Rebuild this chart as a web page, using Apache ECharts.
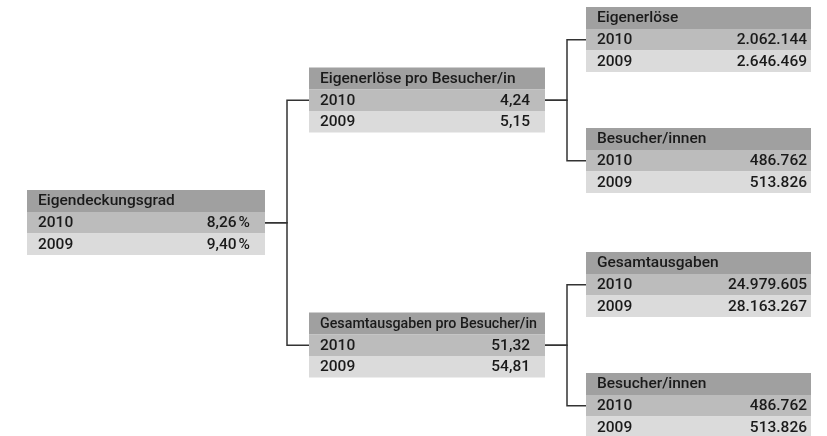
<!DOCTYPE html>
<html>
<head>
<meta charset="utf-8">
<script src="https://cdn.jsdelivr.net/npm/echarts@6/dist/echarts.min.js"></script>
<style>html,body{margin:0;padding:0;background:#fff}#c{width:827px;height:436px}</style>
</head>
<body>
<div id="c"></div>
<script>
// ---- data ----
const nodeTitles = ['Eigendeckungsgrad', 'Eigenerlöse pro Besucher/in', 'Eigenerlöse', 'Besucher/innen', 'Gesamtausgaben pro Besucher/in', 'Gesamtausgaben', 'Besucher/innen'];
const nodeParent = [-1, 0, 1, 1, 0, 4, 4];
const years = ['2010', '2009'];
const values2010 = [8.26, 4.24, 2062144, 486762, 51.32, 24979605, 486762];
const values2009 = [9.40, 5.15, 2646469, 513826, 54.81, 28163267, 513826];
const nodeDecimals = [2, 2, 0, 0, 2, 0, 0];
const nodeSuffix = ['\u202F%', '', '', '', '', '', ''];

// ---- layout (styling) ----
const colLeft = [27, 309, 586];
const colWidth = [238, 236, 225];
const rightPad = [15, 15, 4];
const leafTops = [7, 128, 252, 373];
const HEADER = 22, ROW = 21.5;
const CONN = HEADER + ROW / 2;
const FONT_FAMILY = 'Roboto, "Open Sans", sans-serif';
const FONT = '500 15.5px ' + FONT_FAMILY;

function fmt(v, dec) {
  const s = v.toFixed(dec);
  const parts = s.split('.');
  const intp = parts[0].replace(/\B(?=(\d{3})+(?!\d))/g, '.');
  return parts.length > 1 ? intp + ',' + parts[1] : intp;
}

const measureCtx = document.createElement('canvas').getContext('2d');
function textWidth(t) { measureCtx.font = FONT; return measureCtx.measureText(t).width; }

const depth = nodeParent.map((p, i) => { let d = 0, q = i; while (nodeParent[q] >= 0) { q = nodeParent[q]; d++; } return d; });
const children = nodeParent.map((_, i) => nodeParent.map((p, j) => p === i ? j : -1).filter(j => j >= 0));
const tops = new Array(nodeTitles.length);
let leafIdx = 0;
(function assign(i) {
  if (children[i].length === 0) { tops[i] = leafTops[leafIdx++]; return; }
  children[i].forEach(assign);
  const ys = children[i].map(c => tops[c] + CONN);
  tops[i] = ys.reduce((a, b) => a + b, 0) / ys.length - CONN;
})(0);

const seriesData = nodeTitles.map((t, i) => ({ value: [colLeft[depth[i]], tops[i], colWidth[depth[i]], i] }));

const chart = echarts.init(document.getElementById('c'), null, { renderer: 'canvas' });
const TEXTC = '#1a1a1a';
const fills = ['#a0a0a0', '#bcbcbc', '#dbdbdb'];

chart.setOption({
  animation: false,
  grid: { left: 0, right: 0, top: 0, bottom: 0 },
  xAxis: { type: 'value', min: 0, max: 827, show: false },
  yAxis: { type: 'value', min: 0, max: 436, inverse: true, show: false },
  series: [{
    type: 'custom',
    coordinateSystem: 'cartesian2d',
    data: seriesData,
    encode: { x: 0, y: 1 },
    renderItem: function (params, api) {
      const left = api.value(0), top = api.value(1), w = api.value(2), i = api.value(3);
      const p0 = api.coord([left, top]);
      const p1 = api.coord([left + w, top]);
      const x0 = p0[0], y0 = p0[1], x1 = p1[0];
      const els = [];
      const heights = [HEADER, ROW, ROW];
      let y = y0;
      for (let r = 0; r < 3; r++) {
        els.push({ type: 'rect', shape: { x: x0, y: y, width: x1 - x0, height: heights[r] }, style: { fill: fills[r] } });
        y += heights[r];
      }
      const mkText = (x, yy, txt, align, sx) => ({ type: 'text', x: x, y: yy, scaleX: sx || 1, style: { text: txt, fill: TEXTC, font: FONT, textAlign: align, textVerticalAlign: 'middle' } });
      const avail = (x1 - x0) - 11 - 8;
      const tw = textWidth(nodeTitles[i]);
      els.push(mkText(x0 + 11, y0 + HEADER / 2 + 0.5, nodeTitles[i], 'left', tw > avail ? avail / tw : 1));
      const vals = [values2010[i], values2009[i]];
      for (let r = 0; r < 2; r++) {
        const cy = y0 + HEADER + ROW * r + ROW / 2 + 0.5;
        els.push(mkText(x0 + 11, cy, years[r], 'left'));
        els.push(mkText(x1 - rightPad[depth[i]], cy, fmt(vals[r], nodeDecimals[i]) + nodeSuffix[i], 'right'));
      }
      const par = nodeParent[i];
      if (par >= 0) {
        const pr = api.coord([colLeft[depth[par]] + colWidth[depth[par]], tops[par] + CONN]);
        const cy = api.coord([left, top + CONN])[1];
        const vx = pr[0] + 22;
        els.push({ type: 'polyline', shape: { points: [[pr[0], pr[1]], [vx, pr[1]], [vx, cy], [x0, cy]] }, style: { stroke: '#333', lineWidth: 1.5, fill: null } });
      }
      return { type: 'group', children: els };
    }
  }]
});
</script>
</body>
</html>
